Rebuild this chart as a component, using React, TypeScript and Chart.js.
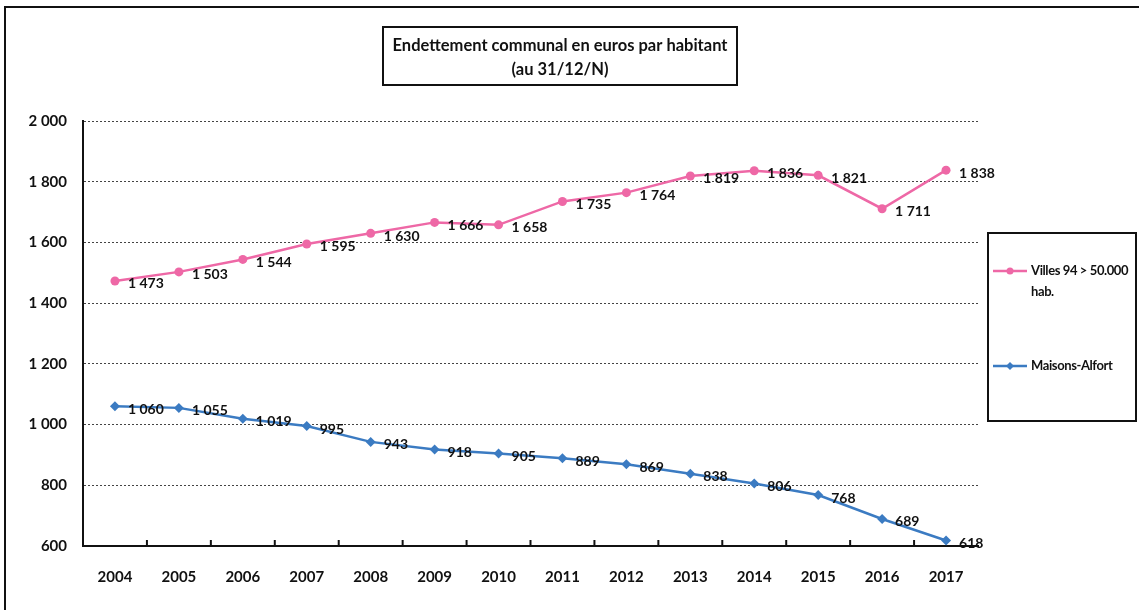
import React, { useEffect, useRef } from "react";
import { Chart, registerables } from "chart.js";

Chart.register(...registerables);

const years = ["2004", "2005", "2006", "2007", "2008", "2009", "2010", "2011", "2012", "2013", "2014", "2015", "2016", "2017"];
const villes = [1473, 1503, 1544, 1595, 1630, 1666, 1658, 1735, 1764, 1819, 1836, 1821, 1711, 1838];
const maisons = [1060, 1055, 1019, 995, 943, 918, 905, 889, 869, 838, 806, 768, 689, 618];
const titleLines = ["Endettement communal en euros par habitant", "(au 31/12/N)"];
const legendVilles = ["Villes 94 > 50.000", "hab."];
const legendMaisons = ["Maisons-Alfort"];

const FONT = "Lato, 'Open Sans', sans-serif";
const PINK = "#EE68A6";
const BLUE = "#3B7BC2";

const fmt = (v: number) => {
  const s = String(Math.round(v));
  return s.replace(/\B(?=(\d{3})+(?!\d))/g, " ");
};

const decorPlugin = {
  id: "decor",
  beforeDraw(chart: any) {
    const ctx = chart.ctx;
    ctx.save();
    ctx.fillStyle = "#fff";
    ctx.fillRect(0, 0, chart.width, chart.height);
    ctx.restore();
  },
  afterDraw(chart: any) {
    const ctx = chart.ctx;
    const area = chart.chartArea;
    ctx.save();
    // outer frame
    ctx.strokeStyle = "#111";
    ctx.lineWidth = 2;
    ctx.beginPath();
    ctx.moveTo(5, chart.height);
    ctx.lineTo(5, 7);
    ctx.lineTo(chart.width, 7);
    ctx.stroke();

    // title box
    ctx.lineWidth = 2;
    ctx.strokeRect(383, 27, 354, 58);
    ctx.fillStyle = "#111";
    ctx.font = `bold 16.5px ${FONT}`;
    ctx.textAlign = "center";
    ctx.textBaseline = "middle";
    ctx.fillText(titleLines[0], 560, 46);
    ctx.fillText(titleLines[1], 560, 70);

    // x tick marks (inside, between categories)
    const xs = chart.scales.x;
    ctx.lineWidth = 2;
    ctx.strokeStyle = "#111";
    for (let i = 1; i < years.length; i++) {
      const x = (xs.getPixelForTick(i - 1) + xs.getPixelForTick(i)) / 2;
      ctx.beginPath();
      ctx.moveTo(x, area.bottom);
      ctx.lineTo(x, area.bottom - 6);
      ctx.stroke();
    }

    // data labels
    ctx.font = `bold 14px ${FONT}`;
    ctx.textAlign = "left";
    ctx.textBaseline = "middle";
    ctx.fillStyle = "#111";
    chart.data.datasets.forEach((ds: any, di: number) => {
      const meta = chart.getDatasetMeta(di);
      meta.data.forEach((pt: any, i: number) => {
        ctx.fillText(fmt(ds.data[i]), pt.x + 13, pt.y + 3);
      });
    });

    // legend box
    ctx.lineWidth = 2;
    ctx.strokeStyle = "#111";
    ctx.strokeRect(988, 233, 148, 188);
    const entries = [
      { lines: legendVilles, color: PINK, y: 271, style: "circle" },
      { lines: legendMaisons, color: BLUE, y: 366, style: "rectRot" },
    ];
    entries.forEach((e) => {
      ctx.strokeStyle = e.color;
      ctx.lineWidth = 2.5;
      ctx.beginPath();
      ctx.moveTo(993, e.y);
      ctx.lineTo(1027, e.y);
      ctx.stroke();
      ctx.fillStyle = e.color;
      ctx.beginPath();
      if (e.style === "circle") {
        ctx.arc(1010, e.y, 3.5, 0, Math.PI * 2);
      } else {
        ctx.moveTo(1010, e.y - 4);
        ctx.lineTo(1014, e.y);
        ctx.lineTo(1010, e.y + 4);
        ctx.lineTo(1006, e.y);
        ctx.closePath();
      }
      ctx.fill();
      ctx.fillStyle = "#111";
      ctx.font = `bold 13px ${FONT}`;
      try {
        (ctx as any).letterSpacing = "-0.4px";
      } catch (err) {}
      ctx.textAlign = "left";
      ctx.textBaseline = "middle";
      e.lines.forEach((t, k) => ctx.fillText(t, 1031, e.y + k * 21));
      try {
        (ctx as any).letterSpacing = "0px";
      } catch (err) {}
    });
    ctx.restore();
  },
};

export default function App() {
  const ref = useRef<HTMLCanvasElement | null>(null);
  useEffect(() => {
    if (!ref.current) return;
    const chart = new Chart(ref.current, {
      type: "line",
      data: {
        labels: years,
        datasets: [
          {
            label: legendVilles.join(" "),
            data: villes,
            borderColor: PINK,
            backgroundColor: PINK,
            borderWidth: 2.5,
            pointStyle: "circle",
            pointRadius: 4.5,
            pointBorderWidth: 0,
            tension: 0,
          },
          {
            label: legendMaisons[0],
            data: maisons,
            borderColor: BLUE,
            backgroundColor: BLUE,
            borderWidth: 2.5,
            pointStyle: "rectRot",
            pointRadius: 5,
            pointBorderWidth: 0,
            tension: 0,
          },
        ],
      },
      options: {
        animation: false,
        responsive: false,
        devicePixelRatio: 1,
        layout: { padding: { left: 0, right: 161, top: 121, bottom: 0 } },
        plugins: {
          legend: { display: false },
          title: { display: false },
          tooltip: { enabled: false },
        },
        scales: {
          x: {
            offset: true,
            grid: { display: false, drawTicks: false },
            border: { display: true, color: "#111", width: 2 },
            ticks: {
              color: "#111",
              font: { family: FONT, size: 15, weight: "bold" },
              padding: 22,
              maxRotation: 0,
            },
            afterFit: (s: any) => {
              s.height = 64;
            },
          },
          y: {
            min: 600,
            max: 2000,
            ticks: {
              stepSize: 200,
              color: "#111",
              font: { family: FONT, size: 15, weight: "bold" },
              padding: 16,
              callback: (v: any) => fmt(Number(v)),
            },
            grid: {
              color: "#444",
              lineWidth: 1,
              drawTicks: false,
            },
            border: { display: true, color: "#111", width: 2, dash: [2, 2] } as any,
            afterFit: (s: any) => {
              s.width = 83;
            },
          },
        },
      },
      plugins: [decorPlugin],
    } as any);
    return () => chart.destroy();
  }, []);
  return (
    <div style={{ position: "fixed", left: 0, top: 0, width: 1139, height: 610 }}>
      <canvas ref={ref} width={1139} height={610} style={{ width: 1139, height: 610 }} />
    </div>
  );
}
